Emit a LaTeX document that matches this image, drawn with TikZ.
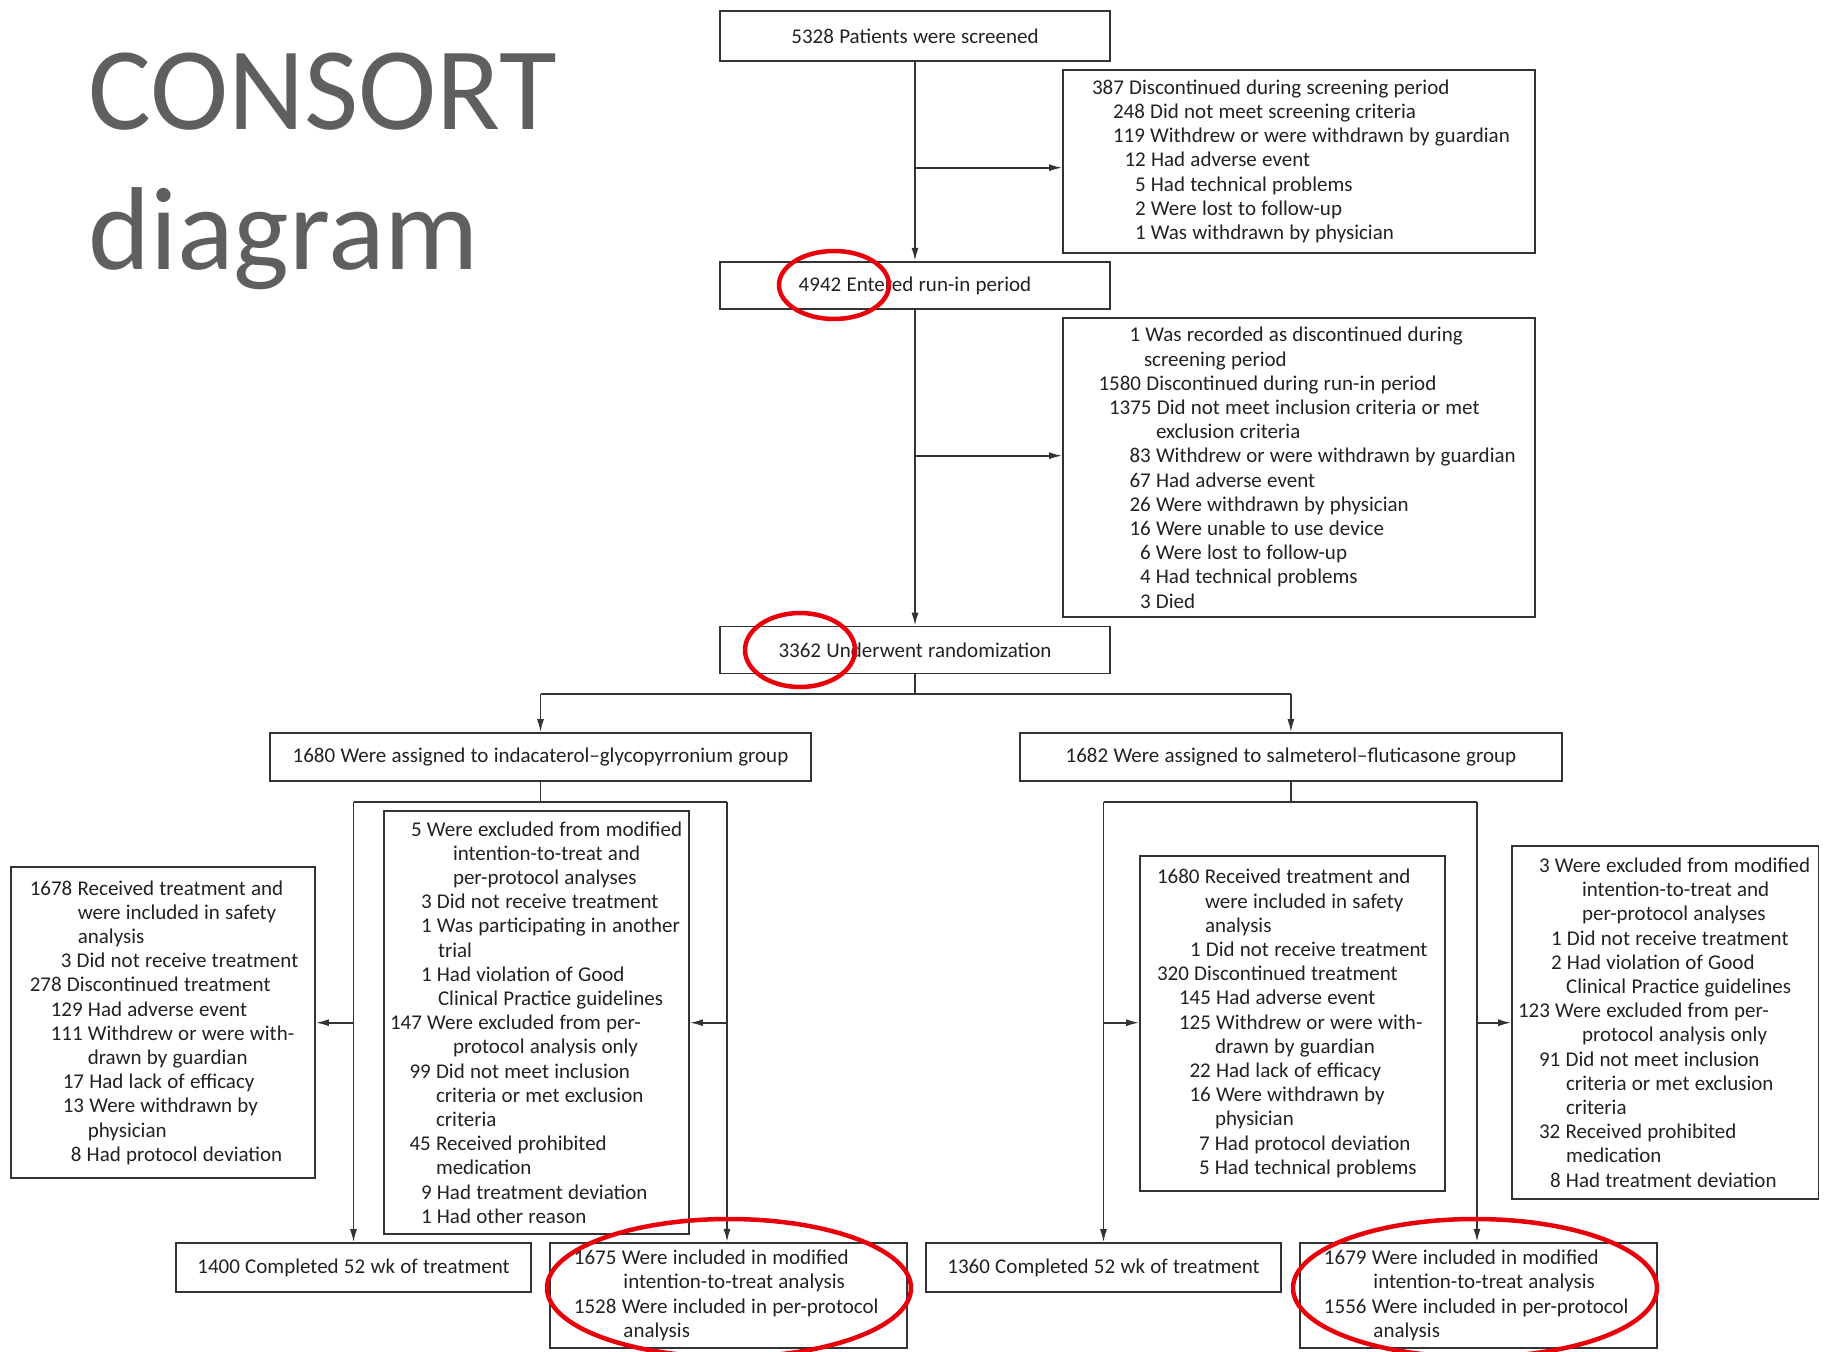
\documentclass[tikz,border=0pt]{standalone}
\usepackage{fontspec}
\setmainfont{Carlito}
\usetikzlibrary{arrows.meta}
\definecolor{ln}{HTML}{333333}
\definecolor{tx}{HTML}{222222}
\definecolor{ttl}{HTML}{5F5F5F}
\definecolor{rring}{HTML}{E8000B}
\newcommand\myln[2]{\hspace*{#1pt}\mbox{\spaceskip=0.25em\relax #2}}
\newcommand\boxfont{\fontsize{21}{24.2}\selectfont\spaceskip=0.25em\relax}
\begin{document}
\begin{tikzpicture}[x=1pt,y=-1pt,
 bx/.style={draw=ln, line width=1.7pt, rectangle, inner sep=0pt, text=tx, font=\boxfont},
 cbox/.style={bx, align=center},
 lbox/.style={bx, align=left},
 con/.style={draw=ln, line width=1.7pt},
 arr/.style={con, -{Latex[length=13pt,width=7pt]}},
 ring/.style={draw=rring, line width=4.5pt},
 ttlstyle/.style={text=ttl, font=\fontsize{118}{140}\selectfont, inner sep=0pt, anchor=base west}
]
\useasboundingbox[fill=white] (0,0) rectangle (1832,1352);

% title
\node[ttlstyle] (t1) at (88,129) {CONSORT};
\node[ttlstyle] (t2) at (88,269) {diagram};

% top column
\node[cbox, minimum width=390pt, minimum height=50pt] (A) at (915,36) {5328 Patients were screened};
\node[cbox, minimum width=390pt, minimum height=47.6pt] (C) at (915,285.5) {4942 Entered run-in period};
\node[cbox, minimum width=390pt, minimum height=47pt] (E) at (915,650) {3362 Underwent randomization};

\node[lbox, minimum width=472pt, text width=472pt, minimum height=182.7pt] (B) at (1299,161.3) {%
\myln{29}{387 Discontinued during screening period}\\
\myln{50}{248 Did not meet screening criteria}\\
\myln{50}{119 Withdrew or were withdrawn by guardian}\\
\myln{61.5}{12 Had adverse event}\\
\myln{72}{5 Had technical problems}\\
\myln{72}{2 Were lost to follow-up}\\
\myln{72}{1 Was withdrawn by physician}};

\node[lbox, minimum width=472pt, text width=472pt, minimum height=299pt] (D) at (1299,467.8) {%
\myln{66.5}{1 Was recorded as discontinued during}\\
\myln{81}{screening period}\\
\myln{35.5}{1580 Discontinued during run-in period}\\
\myln{46}{1375 Did not meet inclusion criteria or met}\\
\myln{93}{exclusion criteria}\\
\myln{66.5}{83 Withdrew or were withdrawn by guardian}\\
\myln{66.5}{67 Had adverse event}\\
\myln{66.5}{26 Were withdrawn by physician}\\
\myln{66.5}{16 Were unable to use device}\\
\myln{77}{6 Were lost to follow-up}\\
\myln{77}{4 Had technical problems}\\
\myln{77}{3 Died}};

% groups
\node[cbox, minimum width=541pt, minimum height=47.7pt] (F) at (540.5,756.9) {1680 Were assigned to indacaterol–glycopyrronium group};
\node[cbox, minimum width=541.7pt, minimum height=47.7pt] (G) at (1290.9,756.9) {1682 Were assigned to salmeterol–fluticasone group};

\node[lbox, minimum width=304.2pt, text width=304.2pt, minimum height=311pt] (H) at (162.9,1022.5) {%
\myln{19}{1678 Received treatment and}\\
\myln{67}{were included in safety}\\
\myln{67}{analysis}\\
\myln{50}{3 Did not receive treatment}\\
\myln{19}{278 Discontinued treatment}\\
\myln{40}{129 Had adverse event}\\
\myln{40}{111 Withdrew or were with-}\\
\myln{77}{drawn by guardian}\\
\myln{52}{17 Had lack of efficacy}\\
\myln{52}{13 Were withdrawn by}\\
\myln{77}{physician}\\
\myln{60}{8 Had protocol deviation}};

\node[lbox, minimum width=305pt, text width=305pt, minimum height=423pt] (I) at (536.5,1022.5) {%
\myln{27}{5 Were excluded from modified}\\
\myln{69}{intention-to-treat and}\\
\myln{69}{per-protocol analyses}\\
\myln{37}{3 Did not receive treatment}\\
\myln{37}{1 Was participating in another}\\
\myln{54}{trial}\\
\myln{37}{1 Had violation of Good}\\
\myln{54}{Clinical Practice guidelines}\\
\myln{6}{147 Were excluded from per-}\\
\myln{69}{protocol analysis only}\\
\myln{25.5}{99 Did not meet inclusion}\\
\myln{52}{criteria or met exclusion}\\
\myln{52}{criteria}\\
\myln{25.5}{45 Received prohibited}\\
\myln{52}{medication}\\
\myln{37}{9 Had treatment deviation}\\
\myln{37}{1 Had other reason}};

\node[lbox, minimum width=305pt, text width=305pt, minimum height=335pt] (L) at (1292.5,1023.5) {%
\myln{17}{1680 Received treatment and}\\
\myln{65}{were included in safety}\\
\myln{65}{analysis}\\
\myln{50}{1 Did not receive treatment}\\
\myln{17}{320 Discontinued treatment}\\
\myln{39}{145 Had adverse event}\\
\myln{39}{125 Withdrew or were with-}\\
\myln{75}{drawn by guardian}\\
\myln{49.5}{22 Had lack of efficacy}\\
\myln{49.5}{16 Were withdrawn by}\\
\myln{75}{physician}\\
\myln{59}{7 Had protocol deviation}\\
\myln{59}{5 Had technical problems}};

\node[lbox, minimum width=306.5pt, text width=306.5pt, minimum height=353pt] (M) at (1665.3,1022.5) {%
\myln{27}{3 Were excluded from modified}\\
\myln{70}{intention-to-treat and}\\
\myln{70}{per-protocol analyses}\\
\myln{39}{1 Did not receive treatment}\\
\myln{39}{2 Had violation of Good}\\
\myln{54}{Clinical Practice guidelines}\\
\myln{6}{123 Were excluded from per-}\\
\myln{70}{protocol analysis only}\\
\myln{27}{91 Did not meet inclusion}\\
\myln{54}{criteria or met exclusion}\\
\myln{54}{criteria}\\
\myln{27}{32 Received prohibited}\\
\myln{54}{medication}\\
\myln{38}{8 Had treatment deviation}};

% bottom row
\node[cbox, minimum width=355pt, minimum height=49pt] (J) at (353.5,1267.5) {1400 Completed 52 wk of treatment};
\node[lbox, minimum width=356.7pt, text width=356.7pt, minimum height=105.3pt] (K) at (728.3,1295.4) {%
\myln{24}{1675 Were included in modified}\\
\myln{73.5}{intention-to-treat analysis}\\
\myln{24}{1528 Were included in per-protocol}\\
\myln{73.5}{analysis}};
\node[cbox, minimum width=355pt, minimum height=49pt] (N) at (1103.5,1267.5) {1360 Completed 52 wk of treatment};
\node[lbox, minimum width=356.7pt, text width=356.7pt, minimum height=105.3pt] (O) at (1478.3,1295.4) {%
\myln{24}{1679 Were included in modified}\\
\myln{73.5}{intention-to-treat analysis}\\
\myln{24}{1556 Were included in per-protocol}\\
\myln{73.5}{analysis}};

% connectors: top column
\draw[arr] (A.south) -- (C.north);
\coordinate (ab) at (915,167.7);
\draw[arr] (ab) -- (ab -| B.west);
\draw[arr] (C.south) -- (E.north);
\coordinate (cd) at (915,455.7);
\draw[arr] (cd) -- (cd -| D.west);

% split
\coordinate (sp) at (915,694);
\draw[con] (E.south) -- (sp);
\draw[con] (sp -| F.north) -- (sp -| G.north);
\draw[arr] (sp -| F.north) -- (F.north);
\draw[arr] (sp -| G.north) -- (G.north);

% left arm
\coordinate (fl) at (353.5,801.7);
\coordinate (fr) at (727,801.7);
\draw[con] (F.south) -- (F.south |- fl);
\draw[con] (fl) -- (fr);
\draw[arr] (fl) -- (fl |- J.north);
\draw[arr] (fr) -- (fr |- K.north);
\coordinate (hl) at (353.5,1022.7);
\coordinate (il) at (727,1022.7);
\draw[arr] (hl) -- (hl -| H.east);
\draw[arr] (il) -- (il -| I.east);

% right arm
\coordinate (gl) at (1103.5,801.7);
\coordinate (gr) at (1477,801.7);
\draw[con] (G.south) -- (G.south |- gl);
\draw[con] (gl) -- (gr);
\draw[arr] (gl) -- (gl |- N.north);
\draw[arr] (gr) -- (gr |- O.north);
\coordinate (ll) at (1103.5,1022.7);
\coordinate (ml) at (1477,1022.7);
\draw[arr] (ll) -- (ll -| L.west);
\draw[arr] (ml) -- (ml -| M.west);

% red rings
\draw[ring] (834,285) ellipse [x radius=55pt, y radius=34pt];
\draw[ring] (800,650) ellipse [x radius=55pt, y radius=37pt];
\draw[ring] (729,1288) ellipse [x radius=182pt, y radius=69pt];
\draw[ring] (1475,1288) ellipse [x radius=182pt, y radius=69pt];
\end{tikzpicture}
\end{document}
